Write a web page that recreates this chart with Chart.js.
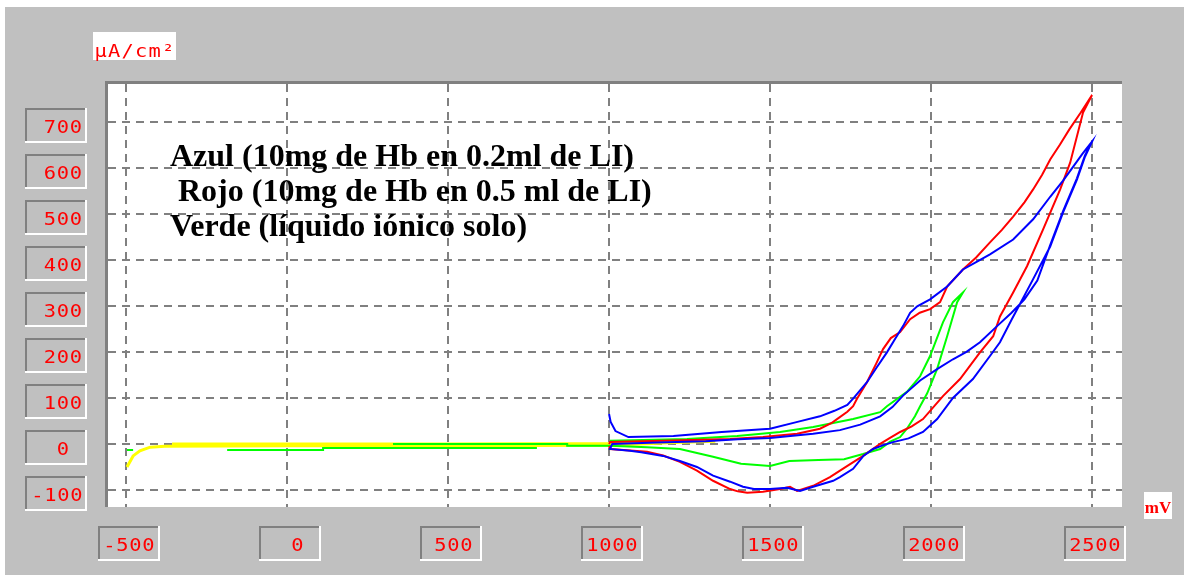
<!DOCTYPE html>
<html>
<head>
<meta charset="utf-8">
<script src="https://cdn.jsdelivr.net/npm/chart.js@4.4.0/dist/chart.umd.min.js"></script>
<style>
  html, body { margin: 0; padding: 0; background: #fff; }
  canvas { display: block; }
</style>
</head>
<body>
<canvas id="cv" width="1184" height="575"></canvas>
<script>
// axis ticks (mV and uA/cm2)
const xTicks = [-500, 0, 500, 1000, 1500, 2000, 2500];
const xTickLabels = ['-500', '0', '500', '1000', '1500', '2000', '2500'];
const yTicks = [-100, 0, 100, 200, 300, 400, 500, 600, 700];
const yTickLabels = ['-100', '0', '100', '200', '300', '400', '500', '600', '700'];

const legendLines = [
  'Azul (10mg de Hb en 0.2ml de LI)',
  ' Rojo (10mg de Hb en 0.5 ml de LI)',
  'Verde (líquido iónico solo)'
];

// azul
const blueX = [1000, 1005, 1020, 1060, 1200, 1350, 1500, 1585, 1655, 1700, 1740, 1760, 1801, 1830, 1863, 1890, 1913, 1935, 1957, 1997, 2050, 2099, 2140, 2183, 2255, 2317, 2370, 2410, 2441, 2470, 2500,
  2478, 2453, 2410, 2370, 2317, 2277, 2250, 2214, 2183, 2130, 2068, 2019, 1975, 1930, 1882, 1850, 1820, 1790, 1758, 1717, 1696, 1634, 1593, 1553, 1500, 1450, 1416, 1376, 1323, 1273, 1220, 1168, 1100, 1065, 1003,
  1010, 1150, 1300, 1400, 1500, 1634, 1717, 1780, 1842, 1880, 1913, 1966, 2020, 2068, 2110, 2152, 2205, 2250, 2290, 2330, 2370, 2410, 2453, 2478, 2500];
const blueY = [65, 48, 28, 15, 17, 26, 33, 48, 60, 72, 85, 100, 134, 165, 199, 230, 256, 285, 299, 314, 342, 379, 395, 412, 444, 488, 537, 572, 602, 630, 657,
  624, 574, 503, 429, 358, 305, 270, 221, 191, 141, 100, 54, 26, 12, 4, -3, -11, -26, -54, -72, -80, -93, -102, -95, -98, -98, -93, -82, -69, -50, -37, -26, -18, -15, -11,
  0, 3, 6, 10, 13, 22, 30, 42, 60, 80, 105, 138, 163, 184, 200, 221, 256, 285, 314, 355, 432, 506, 577, 627, 657];

// rojo
const redX = [1000, 1003, 1168, 1376, 1478, 1584, 1655, 1690, 1708, 1740, 1758, 1770, 1801, 1830, 1851, 1875, 1904, 1935, 1965, 1997, 2028, 2050, 2099, 2140, 2183, 2220, 2255, 2290, 2317, 2345, 2370, 2400, 2430, 2465, 2500,
  2472, 2432, 2401, 2348, 2298, 2255, 2214, 2193, 2152, 2090, 2037, 1975, 1940, 1904, 1870, 1842, 1789, 1739, 1686, 1634, 1584, 1562, 1531, 1478, 1429, 1400, 1376, 1323, 1273, 1220, 1168, 1118, 1003, 1000];
const redY = [0, 4, 7, 11, 15, 22, 33, 45, 54, 70, 82, 98, 134, 175, 206, 230, 243, 271, 285, 293, 308, 342, 379, 405, 438, 465, 494, 525, 553, 585, 618, 650, 684, 720, 758,
  720, 611, 553, 466, 386, 329, 277, 234, 199, 141, 104, 54, 38, 26, 12, 0, -26, -48, -72, -91, -102, -93, -98, -104, -106, -103, -98, -80, -58, -39, -25, -17, -11, -5];

// verde
const greenX = [-497, -478, -300, -186, 112, 112, 776, 600, 329, 870, 870, 1003, 1118, 1220, 1323, 1410, 1500, 1560, 1650, 1730, 1789, 1842, 1873, 1904, 1925, 1950, 1966, 1988, 2006, 2019, 2050, 2081, 2099,
  2068, 2037, 1997, 1966, 1925, 1863, 1842, 1758, 1634, 1531, 1398, 1242, 1003];
const greenY = [-13, -13, null, -13, -13, -9, -9, null, 0, 0, -4, -4, -7, -11, -28, -43, -48, -37, -35, -33, -22, -11, 5, 15, 33, 60, 82, 110, 141, 163, 234, 308, 329,
  308, 264, 191, 147, 113, 82, 69, 54, 37, 26, 17, 11, 7];

// amarillo
const yellowX = [-497, -478, -457, -425, -380, 0, 500, 1000, 1100, 1200, 1330, 1250, 1100, 1000, 500, -357];
const yellowY = [-50, -26, -15, -7, -5, -4, -4, -3, 0, 3, 6, 5, 3, 1, 0, 0];

const pts = (xs, ys) => xs.map((x, i) => ({ x: x, y: ys[i] }));

function bevelBox(ctx, x, y, w, h) {
  ctx.fillStyle = '#c0c0c0';
  ctx.fillRect(x, y, w, h);
  ctx.fillStyle = '#808080';
  ctx.fillRect(x, y, w, 2);
  ctx.fillRect(x, y, 2, h);
  ctx.fillStyle = '#ffffff';
  ctx.fillRect(x, y + h - 2, w, 2);
  ctx.fillRect(x + w - 2, y, 2, h);
}

// wide bitmap-ish mono text, one char at a time
function monoText(ctx, str, left, baseline, step) {
  ctx.font = '17px "DejaVu Sans Mono"';
  ctx.textAlign = 'left';
  ctx.textBaseline = 'alphabetic';
  let x = left;
  for (const ch of str) {
    const cw = ctx.measureText(ch).width * 1.2;
    ctx.save();
    ctx.translate(x + (step - cw) / 2, baseline);
    ctx.scale(1.2, 1);
    ctx.fillText(ch, 0, 0);
    ctx.restore();
    x += step;
  }
}

const panel = {
  id: 'panel',
  beforeDraw(chart) {
    const { ctx, chartArea: a } = chart;
    ctx.save();
    ctx.fillStyle = '#ffffff';
    ctx.fillRect(0, 0, chart.width, chart.height);
    ctx.fillStyle = '#c0c0c0';
    ctx.fillRect(5, 7, chart.width - 5, chart.height - 7);
    ctx.fillStyle = '#ffffff';
    ctx.fillRect(a.left, a.top, a.right - a.left, a.bottom - a.top);
    ctx.fillStyle = '#808080';
    ctx.fillRect(a.left - 3, a.top - 3, a.right - a.left + 3, 3);
    ctx.fillRect(a.left - 3, a.top - 3, 3, a.bottom - a.top + 3);
    ctx.restore();
  },
  afterDraw(chart) {
    const { ctx } = chart;
    const xs = chart.scales.x, ys = chart.scales.y;
    ctx.save();
    const step = 13;
    yTicks.forEach((v, i) => {
      const py = Math.round(ys.getPixelForValue(v));
      bevelBox(ctx, 25, py - 14, 62, 35);
      const txt = yTickLabels[i];
      const w = txt.length * step;
      const cx = Math.min(63, 83 - w / 2);
      ctx.fillStyle = '#ff0000';
      monoText(ctx, txt, cx - w / 2, py + 11, step);
    });
    xTicks.forEach((v, i) => {
      const px = Math.round(xs.getPixelForValue(v));
      bevelBox(ctx, px - 28, 526, 62, 35);
      const txt = xTickLabels[i];
      const w = txt.length * step;
      const cx = px + 3 + (4 - txt.length) * 2.5;
      ctx.fillStyle = '#ff0000';
      monoText(ctx, txt, cx - w / 2, 551, step);
    });
    // unit labels
    ctx.fillStyle = '#ffffff';
    ctx.fillRect(93, 32, 83, 28);
    ctx.fillStyle = '#ff0000';
    monoText(ctx, 'µA/cm²', 94, 57, 13.5);
    ctx.fillStyle = '#ffffff';
    ctx.fillRect(1144, 492, 28, 27);
    ctx.fillStyle = '#ff0000';
    ctx.font = 'bold 17px "Liberation Serif"';
    ctx.textAlign = 'center';
    ctx.fillText('mV', 1158, 513);
    // legend text
    ctx.fillStyle = '#000000';
    ctx.font = 'bold 32px "Liberation Serif"';
    ctx.textAlign = 'left';
    legendLines.forEach((t, i) => ctx.fillText(t, 170, 166 + i * 35));
    ctx.restore();
  }
};

new Chart(document.getElementById('cv').getContext('2d'), {
  type: 'scatter',
  data: {
    datasets: [
      { label: 'Azul', data: pts(blueX, blueY), borderColor: '#0000ff', borderWidth: 2 },
      { label: 'Rojo', data: pts(redX, redY), borderColor: '#ff0000', borderWidth: 2 },
      { label: 'Verde', data: pts(greenX, greenY), borderColor: '#00ff00', borderWidth: 2 },
      { label: 'Amarillo', data: pts(yellowX, yellowY), borderColor: '#ffff00', borderWidth: 3 },
    ].map(d => Object.assign(d, { showLine: true, pointRadius: 0, tension: 0, spanGaps: false, fill: false }))
  },
  options: {
    responsive: false,
    devicePixelRatio: 1,
    animation: false,
    layout: { padding: { left: 108, top: 84, right: 62, bottom: 68 } },
    plugins: { legend: { display: false }, tooltip: { enabled: false } },
    scales: {
      x: {
        type: 'linear', min: -556, max: 2593,
        afterBuildTicks: s => { s.ticks = xTicks.map(v => ({ value: v })); },
        ticks: { display: false },
        grid: { color: '#808080', lineWidth: 2, drawTicks: false },
        border: { display: false, dash: [8, 6] }
      },
      y: {
        type: 'linear', min: -137, max: 782,
        afterBuildTicks: s => { s.ticks = yTicks.map(v => ({ value: v })); },
        ticks: { display: false },
        grid: { color: '#808080', lineWidth: 2, drawTicks: false },
        border: { display: false, dash: [8, 6] }
      }
    }
  },
  plugins: [panel]
});
</script>
</body>
</html>
